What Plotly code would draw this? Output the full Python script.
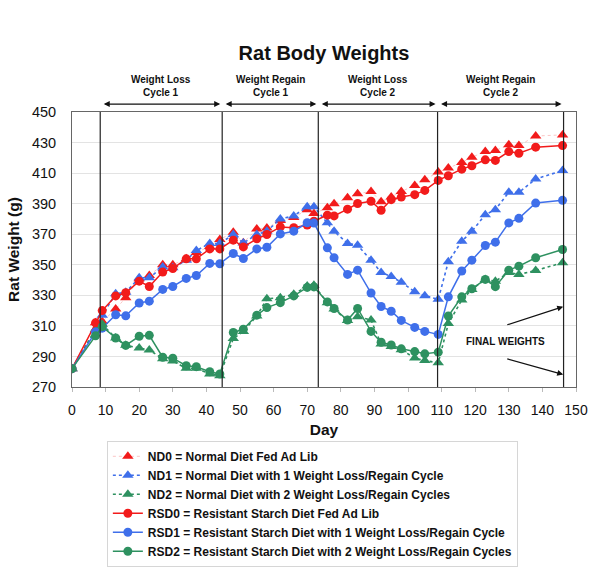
import plotly.graph_objects as go

days = [0, 7, 9, 13, 16, 20, 23, 27, 30, 34, 37, 41, 44, 48, 51, 55, 58, 62, 66, 70,
        72, 76, 78, 82, 85, 89, 92, 95, 98, 102, 105, 109, 112, 116, 119, 123, 126, 130,
        133, 138, 146]

nd0 = [282, 312, 312.8, 321, 328.5, 340.8, 343, 350, 350, 354, 358, 362, 366.5, 371.3,
       364.5, 373.5, 374.1, 379, 381, 386, 383.5, 387.3, 390, 393.8, 396.5, 398, 391.3,
       394.3, 398, 401.9, 405.7, 410.7, 413.3, 417, 420.4, 424.1, 424.8, 428.5, 428,
       434.3, 435]
nd1 = [282, 307, 317, 331, 332, 341.5, 341.5, 348.5, 348, 353, 359.3, 363.9, 363.9,
       369.8, 364.3, 369.8, 372, 380, 382, 388, 388, 377.5, 372, 364, 362.8, 353, 345,
       342.3, 338.6, 332.3, 329.8, 327.4, 352, 365.4, 371.9, 382.8, 386.1, 397.4, 397.4,
       406.1, 411.7]
nd2 = [282, 307.8, 311, 302, 297.3, 295.5, 294.2, 288.5, 287, 282.2, 282.2, 278.5, 277.4,
       301.7, 306.3, 316.5, 327.8, 328.5, 330.7, 336.1, 336.6, 325.2, 321, 313.5, 316,
       313.8, 298.2, 296.5, 294.4, 289, 287.3, 285.8, 311.5, 326.9, 333.9, 340.4, 339.3,
       345, 343.7, 346.3, 351.3]
rsd0 = [282, 312, 320, 329.6, 331.7, 339.3, 335.8, 345.2, 347.5, 353.9, 353.9, 360.4,
        360.4, 366.1, 361.7, 367, 369.8, 374.8, 374.3, 376, 378.5, 382.5, 382, 386.4,
        390.1, 391.6, 385.7, 392.6, 394.3, 395.9, 398.7, 405.2, 408.3, 412.6, 414.8,
        418.7, 418.3, 424.1, 423, 427, 428]
rsd1 = [282, 306, 308.5, 317.3, 316.6, 325, 326.2, 333.9, 335.8, 341.1, 343, 350.9, 350.7,
        357.4, 354.1, 360.4, 361.5, 370.2, 372, 377.5, 377.3, 361.1, 354.6, 343.7, 346.5,
        331.5, 322.7, 319.6, 313.6, 309, 306.4, 304.4, 329, 345.9, 353, 362.6, 364.8,
        377.4, 380.4, 390.4, 392.2]
rsd2 = [282, 303.5, 309.5, 302.1, 297.2, 303.2, 303.8, 289.5, 288.9, 283.9, 283.3, 280,
        278.5, 305.7, 307.8, 317, 322, 325.2, 329.6, 335.2, 335.5, 325.7, 321.4, 313.8,
        321.4, 306.4, 299.3, 297.5, 295, 293.2, 291.7, 292.8, 316.5, 329, 334.3, 340.4,
        335.7, 346.5, 349.1, 354.6, 360]

names = ["ND0 = Normal Diet Fed Ad Lib",
         "ND1 = Normal Diet with 1 Weight Loss/Regain Cycle",
         "ND2 = Normal Diet with 2 Weight Loss/Regain Cycles",
         "RSD0 = Resistant Starch Diet Fed Ad Lib",
         "RSD1 = Resistant Starch Diet with 1 Weight Loss/Regain Cycle",
         "RSD2 = Resistant Starch Diet with 2 Weight Loss/Regain Cycles"]

cycle_bounds = [8.4, 44.7, 73.3, 108.8, 146.3]
cycle_labels = ["Weight Loss<br>Cycle 1", "Weight Regain<br>Cycle 1",
                "Weight Loss<br>Cycle 2", "Weight Regain<br>Cycle 2"]

RED = "#F21B1B"
BLUE = "#3F6FEA"
GREEN = "#2E9160"

fig = go.Figure()
fig.add_trace(go.Scatter(x=days, y=nd0, name=names[0], mode="lines+markers",
                         line=dict(color="rgba(242,27,27,0.25)", width=1, dash="dot"),
                         marker=dict(symbol="triangle-up", size=10, color=RED)))
fig.add_trace(go.Scatter(x=days, y=nd1, name=names[1], mode="lines+markers",
                         line=dict(color=BLUE, width=1.6, dash="dot"),
                         marker=dict(symbol="triangle-up", size=10, color=BLUE)))
fig.add_trace(go.Scatter(x=days, y=nd2, name=names[2], mode="lines+markers",
                         line=dict(color=GREEN, width=1.6, dash="dot"),
                         marker=dict(symbol="triangle-up", size=10, color=GREEN)))
fig.add_trace(go.Scatter(x=days, y=rsd0, name=names[3], mode="lines+markers",
                         line=dict(color=RED, width=1.5),
                         marker=dict(symbol="circle", size=9, color=RED)))
fig.add_trace(go.Scatter(x=days, y=rsd1, name=names[4], mode="lines+markers",
                         line=dict(color=BLUE, width=1.5),
                         marker=dict(symbol="circle", size=9, color=BLUE)))
fig.add_trace(go.Scatter(x=days, y=rsd2, name=names[5], mode="lines+markers",
                         line=dict(color=GREEN, width=1.5),
                         marker=dict(symbol="circle", size=9, color=GREEN)))

shapes = []
for b in cycle_bounds:
    shapes.append(dict(type="line", xref="x", yref="y", x0=b, x1=b, y0=270, y1=450,
                       line=dict(color="#222", width=1.2)))

annotations = []
for i, lab in enumerate(cycle_labels):
    a, b = cycle_bounds[i], cycle_bounds[i + 1]
    annotations.append(dict(xref="x", yref="paper", x=(a + b) / 2, y=1 + 26 / 276,
                            yanchor="middle",
                            text="<b>" + lab + "</b>", showarrow=False,
                            font=dict(size=10, color="#111")))
    annotations.append(dict(xref="x", yref="paper", axref="x", ayref="pixel",
                            x=b - 0.6, y=1 + 8 / 276, ax=a + 0.6, ay=0, text="",
                            showarrow=True, arrowhead=2, startarrowhead=2,
                            arrowside="end+start", arrowsize=1, arrowwidth=1.2,
                            arrowcolor="#111"))

annotations.append(dict(xref="x", yref="y", x=129, y=300, text="<b>FINAL WEIGHTS</b>",
                        showarrow=False, font=dict(size=10, color="#111")))
annotations.append(dict(xref="x", yref="y", axref="x", ayref="y", x=146.2, y=322.6,
                        ax=129.1, ay=310.4, text="", showarrow=True, arrowhead=2,
                        arrowsize=1, arrowwidth=1.2, arrowcolor="#111"))
annotations.append(dict(xref="x", yref="y", axref="x", ayref="y", x=146.2, y=278.2,
                        ax=129.1, ay=288.7, text="", showarrow=True, arrowhead=2,
                        arrowsize=1, arrowwidth=1.2, arrowcolor="#111"))

fig.update_layout(
    width=600, height=579,
    margin=dict(l=72, r=22, t=112, b=191),
    paper_bgcolor="white", plot_bgcolor="white",
    font=dict(family="Liberation Sans, Arial, sans-serif", color="#111"),
    title=dict(text="<b>Rat Body Weights</b>", x=0.5, xref="paper",
               y=1 - 53 / 579, yref="container", yanchor="middle",
               font=dict(size=20, color="#111")),
    xaxis=dict(range=[0, 150], dtick=10, tick0=0, showgrid=False, zeroline=False,
               showline=True, linecolor="#666", linewidth=1, mirror=True,
               ticks="outside", ticklen=4, tickcolor="#bbb",
               tickfont=dict(size=14), ticklabelstandoff=6,
               title=dict(text="<b>Day</b>", font=dict(size=15.5), standoff=7)),
    yaxis=dict(range=[270, 450], dtick=20, tick0=270, showgrid=True, gridcolor="#e3e3e3",
               zeroline=False, showline=True, linecolor="#666", linewidth=1, mirror=True,
               ticks="", tickfont=dict(size=14.5), ticklabelstandoff=12,
               title=dict(text="<b>Rat Weight (g)</b>", font=dict(size=15.5), standoff=8)),
    showlegend=True,
    legend=dict(x=(107 - 72) / 506, xanchor="left", y=(388 - 442) / 276, yanchor="top",
                bgcolor="white", bordercolor="#d6d6d6", borderwidth=1,
                font=dict(size=12, color="#111"), itemwidth=30,
                tracegroupgap=0),
    shapes=shapes, annotations=annotations,
)

for tr in fig.data:
    tr.name = "<b>" + tr.name + "</b>"

fig.write_html("out.html", config={"displayModeBar": False},
               post_script="document.body.style.margin='0';document.body.style.overflow='hidden';")
